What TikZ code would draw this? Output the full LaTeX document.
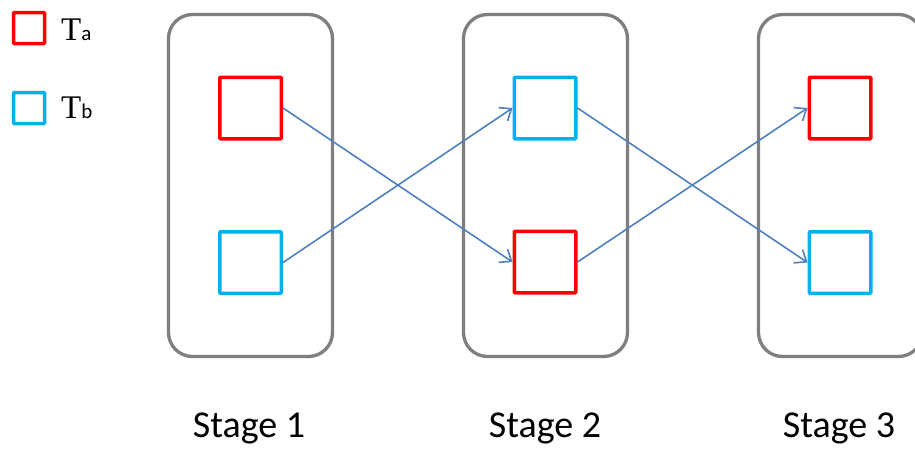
\documentclass[tikz,border=0pt]{standalone}
\usepackage{fontspec}
\setmainfont{Carlito}
\newfontfamily\serifT{Liberation Serif}
\usetikzlibrary{arrows.meta}
\definecolor{stagegray}{HTML}{7F7F7F}
\definecolor{ared}{HTML}{FF0000}
\definecolor{bblue}{HTML}{00B0F0}
\definecolor{arrowblue}{HTML}{4F81BD}
\tikzset{
  stagebox/.style={draw=stagegray, line width=3.3pt, rounded corners=24pt},
  sq/.style={draw, line width=3.5pt, minimum size=61.5pt, inner sep=0pt, rounded corners=0.8pt},
  sqa/.style={sq, draw=ared},
  sqb/.style={sq, draw=bblue},
  legsq/.style={draw, line width=3.5pt, minimum size=31pt, inner sep=0pt, rounded corners=0.8pt},
  conn/.style={draw=arrowblue, line width=1.6pt, -{Straight Barb[length=10pt, width=16pt, line width=1.6pt]}},
  stagelabel/.style={font=\fontsize{38}{40}\selectfont, anchor=base, inner sep=0pt},
  legtext/.style={anchor=base west, inner sep=0pt}
}
\begin{document}
\begin{tikzpicture}[x=1pt, y=-1pt]
\clip (0,0) rectangle (915,450);
\fill[white] (0,0) rectangle (915,450);
% stage boxes
\draw[stagebox] (168.5,14.5) rectangle (332.5,356.5);
\draw[stagebox] (463.5,14.5) rectangle (627.5,356.5);
\draw[stagebox] (758.5,14.5) rectangle (922.5,356.5);
% squares
\node[sqa] (s1a) at (250.5,108) {};
\node[sqb] (s1b) at (250.5,262.5) {};
\node[sqb] (s2b) at (545,108) {};
\node[sqa] (s2a) at (545,262) {};
\node[sqa] (s3a) at (840,108) {};
\node[sqb] (s3b) at (840,262.5) {};
% connectors
\draw[conn] (s1a.east) -- (s2a.west);
\draw[conn] (s1b.east) -- (s2b.west);
\draw[conn] (s2b.east) -- (s3b.west);
\draw[conn] (s2a.east) -- (s3a.west);
% labels
\node[stagelabel] (l1) at (249,437) {Stage 1};
\node[stagelabel] (l2) at (545,437) {Stage 2};
\node[stagelabel] (l3) at (839,437) {Stage 3};
% legend
\node[legsq, draw=ared] (la) at (29,28) {};
\node[legsq, draw=bblue] (lb) at (29,108) {};
\node[legtext] (ta) at (61,40) {{\serifT\fontsize{33}{36}\selectfont T}{\fontsize{21}{24}\selectfont a}};
\node[legtext] (tb) at (61,118) {{\serifT\fontsize{33}{36}\selectfont T}{\fontsize{21}{24}\selectfont b}};
\end{tikzpicture}
\end{document}
